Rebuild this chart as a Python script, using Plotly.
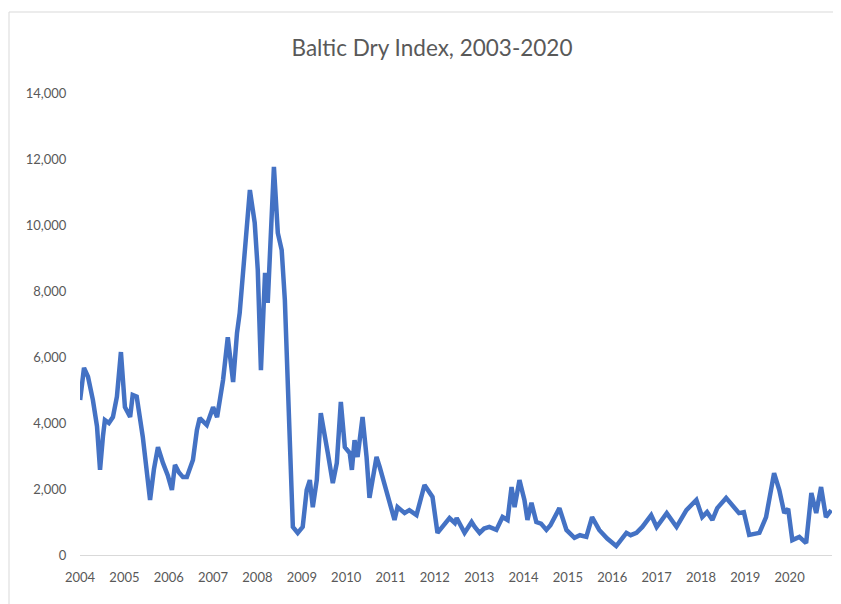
import plotly.graph_objects as go

dates = [
    "2004-01-02", "2004-02-03", "2004-03-07", "2004-04-16", "2004-05-20", "2004-06-14",
    "2004-07-08", "2004-07-24", "2004-08-26", "2004-09-28", "2004-10-31", "2004-12-03",
    "2005-01-05", "2005-02-17", "2005-03-10", "2005-04-12", "2005-06-01", "2005-07-31",
    "2005-09-01", "2005-10-04", "2005-11-14", "2005-12-25", "2006-01-27", "2006-02-21",
    "2006-03-26", "2006-04-28", "2006-05-30", "2006-07-19", "2006-08-21", "2006-09-13",
    "2006-11-10", "2007-01-01", "2007-02-03", "2007-03-24", "2007-05-02", "2007-06-15",
    "2007-07-17", "2007-08-08", "2007-09-20", "2007-10-31", "2007-12-10", "2008-01-04",
    "2008-01-30", "2008-03-04", "2008-03-26", "2008-05-16", "2008-06-17", "2008-07-19",
    "2008-08-14", "2008-09-06", "2008-10-19", "2008-11-28", "2009-01-08", "2009-02-10",
    "2009-03-08", "2009-04-01", "2009-05-04", "2009-06-06", "2009-07-09", "2009-08-03",
    "2009-09-13", "2009-10-16", "2009-11-18", "2009-12-21", "2010-01-30", "2010-02-17",
    "2010-03-11", "2010-04-05", "2010-05-16", "2010-06-18", "2010-07-12", "2010-09-08",
    "2010-10-04", "2010-11-28", "2011-02-03", "2011-02-28", "2011-04-27", "2011-06-05",
    "2011-08-03", "2011-10-08", "2011-11-17", "2011-12-13", "2012-01-23", "2012-03-06",
    "2012-05-01", "2012-06-14", "2012-06-29", "2012-09-02", "2012-10-30", "2012-11-25",
    "2013-01-04", "2013-02-10", "2013-03-25", "2013-05-22", "2013-07-12", "2013-08-22",
    "2013-09-24", "2013-10-19", "2013-11-28", "2014-01-08", "2014-02-02", "2014-03-07",
    "2014-04-16", "2014-05-25", "2014-07-08", "2014-08-10", "2014-09-13", "2014-10-23",
    "2014-12-20", "2015-02-24", "2015-04-10", "2015-06-02", "2015-07-19", "2015-09-16",
    "2015-11-21", "2016-02-03", "2016-04-27", "2016-06-01", "2016-07-19", "2016-09-05",
    "2016-11-17", "2017-01-01", "2017-03-25", "2017-06-14", "2017-09-03", "2017-11-24",
    "2018-01-11", "2018-02-20", "2018-04-05", "2018-05-15", "2018-07-27", "2018-09-16",
    "2018-11-10", "2018-12-20", "2019-02-02", "2019-04-27", "2019-06-21", "2019-08-26",
    "2019-10-08", "2019-11-18", "2019-12-20", "2020-01-23", "2020-03-21", "2020-05-16",
    "2020-06-28", "2020-08-07", "2020-09-16", "2020-10-26", "2020-12-09",
]

bdi = [
    4700, 5670, 5400, 4700, 3900, 2580,
    3600, 4090, 4000, 4180, 4800, 6150,
    4480, 4180, 4850, 4800, 3580, 1670,
    2600, 3270, 2790, 2400, 1970, 2730,
    2500, 2360, 2360, 2880, 3790, 4150,
    3940, 4480, 4180, 5300, 6600, 5240,
    6730, 7330, 9240, 11060, 10060, 8640,
    5600, 8550, 7640, 11760, 9760, 9240,
    7730, 5000, 850, 670, 850, 1970,
    2270, 1450, 2270, 4300, 3480, 3090,
    2180, 2790, 4640, 3270, 3090, 2580,
    3480, 2970, 4180, 2970, 1730, 2970,
    2670, 1970, 1060, 1450, 1270, 1360,
    1210, 2120, 1880, 1760, 670, 850,
    1120, 970, 1120, 670, 1000, 850,
    670, 800, 850, 760, 1150, 1060,
    2060, 1450, 2270, 1670, 1060, 1580,
    1000, 950, 760, 900, 1150, 1420,
    760, 520, 600, 550, 1150, 760,
    500, 270, 670, 600, 670, 850,
    1210, 850, 1270, 850, 1360, 1670,
    1150, 1300, 1060, 1420, 1730, 1520,
    1270, 1300, 610, 670, 1150, 2480,
    1970, 1270, 1400, 450, 550, 360,
    1880, 1270, 2060, 1150, 1360,
]

year_ticks = [f"{y}-01-01" for y in range(2004, 2021)]
year_labels = [str(y) for y in range(2004, 2021)]
y_ticks = list(range(0, 14001, 2000))
y_labels = [f"{v:,}" for v in y_ticks]

# the page body has an 8px offset; target positions are in screen pixels
OFF = 8
SW, SH = 841, 604
W, H = SW - OFF, SH - OFF
plot_left, plot_right, plot_top, plot_bottom = 80, 832, 93, 555
L = plot_left - OFF
R = SW - plot_right
T = plot_top - OFF
B = SH - plot_bottom
pw, ph = plot_right - plot_left, plot_bottom - plot_top

fig = go.Figure()
fig.add_trace(go.Scatter(
    x=dates, y=bdi, mode="lines",
    line=dict(color="#4472C4", width=4.5),
    showlegend=False,
))

grey = "#595959"
fig.update_layout(
    width=W, height=H,
    margin=dict(l=L, r=R, t=T, b=B),
    paper_bgcolor="white", plot_bgcolor="white",
    font=dict(family="Lato, Open Sans, sans-serif", color=grey, size=13),
    title=dict(
        text="Baltic Dry Index, 2003-2020",
        x=(432 - OFF) / W, xref="container", xanchor="center",
        y=1 - (48 - OFF) / H, yref="container", yanchor="middle",
        font=dict(size=22.5, color=grey),
    ),
    xaxis=dict(
        type="date",
        range=["2004-01-01", "2020-12-15"],
        tickmode="array", tickvals=year_ticks, ticktext=year_labels,
        showgrid=False, zeroline=False,
        showline=True, linecolor="#D9D9D9", linewidth=1,
        ticks="outside", ticklen=10, tickcolor="rgba(0,0,0,0)",
        tickfont=dict(size=13, color=grey),
    ),
    yaxis=dict(
        range=[0, 14000],
        tickmode="array", tickvals=y_ticks, ticktext=y_labels,
        showgrid=False, zeroline=False, showline=False,
        ticks="outside", ticklen=10, tickcolor="rgba(0,0,0,0)",
        tickfont=dict(size=13, color=grey),
    ),
)

# chart frame border (top and left edges), in screen pixels
def px_x(sx):
    return (sx - plot_left) / pw

def px_y(sy):
    return (plot_bottom - sy) / ph

fig.add_shape(type="line", xref="paper", yref="paper",
              x0=px_x(9), x1=px_x(SW), y0=px_y(12), y1=px_y(12),
              line=dict(color="#D9D9D9", width=1))
fig.add_shape(type="line", xref="paper", yref="paper",
              x0=px_x(9), x1=px_x(9), y0=px_y(12), y1=px_y(SH),
              line=dict(color="#D9D9D9", width=1))

fig.write_html("out.html")
